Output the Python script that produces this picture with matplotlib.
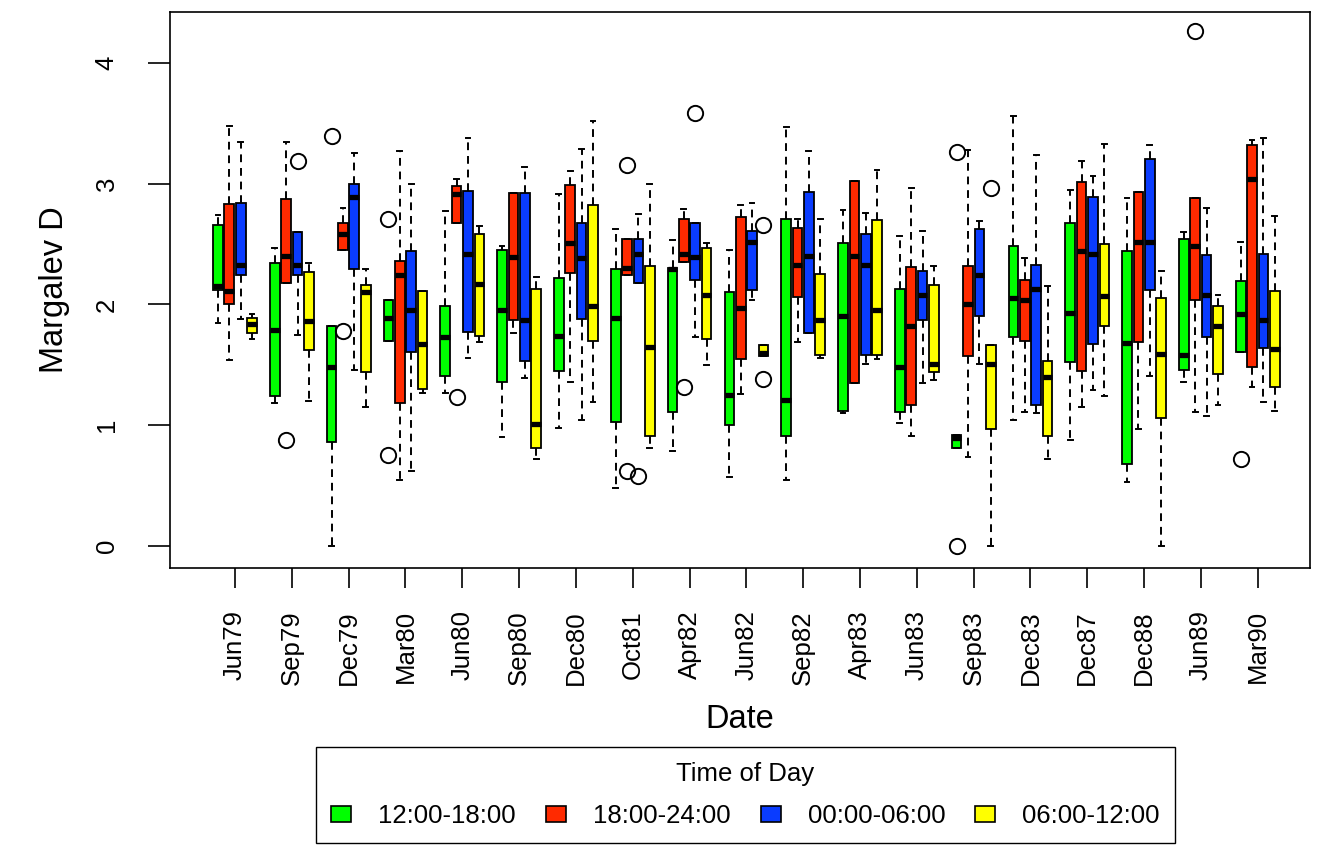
import numpy as np
import matplotlib
matplotlib.use("Agg")
import matplotlib.pyplot as plt
from matplotlib.patches import Patch

plt.rcParams['font.family'] = ['Liberation Sans', 'DejaVu Sans']

dates = ["Jun79", "Sep79", "Dec79", "Mar80", "Jun80", "Sep80", "Dec80", "Oct81",
         "Apr82", "Jun82", "Sep82", "Apr83", "Jun83", "Sep83", "Dec83", "Dec87",
         "Dec88", "Jun89", "Mar90"]

groups = ["12:00-18:00", "18:00-24:00", "00:00-06:00", "06:00-12:00"]
colours = ["#00ff00", "#ff2a00", "#0a3cff", "#ffff00"]

# 12:00-18:00
green_lo = [1.85, 1.18, 0.00, 1.70, 1.27, 0.90, 0.98, 0.48, 0.79, 0.57, 0.55, 1.10, 1.02, 0.81, 1.04, 0.88, 0.53, 1.36, 1.61]
green_q1 = [2.12, 1.24, 0.86, 1.70, 1.41, 1.36, 1.45, 1.03, 1.11, 1.00, 0.91, 1.12, 1.11, 0.81, 1.73, 1.52, 0.68, 1.46, 1.61]
green_med = [2.15, 1.79, 1.48, 1.89, 1.73, 1.95, 1.74, 1.89, 2.29, 1.25, 1.21, 1.90, 1.48, 0.89, 2.05, 1.93, 1.68, 1.58, 1.92]
green_q3 = [2.66, 2.34, 1.82, 2.04, 1.99, 2.45, 2.22, 2.29, 2.30, 2.10, 2.71, 2.51, 2.13, 0.92, 2.48, 2.67, 2.44, 2.54, 2.19]
green_hi = [2.74, 2.47, 1.82, 2.04, 2.77, 2.48, 2.91, 2.62, 2.53, 2.45, 3.47, 2.78, 2.57, 0.92, 3.56, 2.95, 2.88, 2.60, 2.52]
green_out = {"Dec79": [3.39], "Mar80": [2.71, 0.75], "Sep83": [3.26, 0.00], "Mar90": [0.72]}

# 18:00-24:00
red_lo = [1.54, 2.18, 2.45, 0.55, 2.67, 1.76, 1.36, 2.24, 2.35, 1.26, 1.69, 1.35, 0.91, 0.74, 1.11, 1.15, 0.97, 1.11, 1.32]
red_q1 = [2.00, 2.18, 2.45, 1.18, 2.67, 1.87, 2.26, 2.24, 2.35, 1.55, 2.06, 1.35, 1.17, 1.57, 1.70, 1.45, 1.69, 2.04, 1.48]
red_med = [2.11, 2.40, 2.58, 2.24, 2.91, 2.39, 2.51, 2.30, 2.42, 1.97, 2.33, 2.40, 1.82, 2.00, 2.04, 2.44, 2.52, 2.48, 3.04]
red_q3 = [2.83, 2.87, 2.67, 2.36, 2.98, 2.92, 2.99, 2.54, 2.71, 2.72, 2.63, 3.02, 2.31, 2.32, 2.20, 3.01, 2.93, 2.88, 3.32]
red_hi = [3.48, 3.34, 2.80, 3.27, 3.04, 2.92, 3.10, 2.54, 2.79, 2.82, 2.71, 3.02, 2.96, 3.28, 2.38, 3.19, 2.93, 2.88, 3.36]
red_out = {"Sep79": [0.88], "Dec79": [1.78], "Jun80": [1.23], "Oct81": [3.15, 0.62], "Apr82": [1.32], "Jun89": [4.26]}

# 00:00-06:00
blue_lo = [1.88, 1.75, 1.46, 0.62, 1.56, 1.39, 1.04, 2.18, 1.73, 2.04, 1.76, 1.51, 1.35, 1.51, 1.10, 1.29, 1.41, 1.08, 1.19]
blue_q1 = [2.24, 2.24, 2.29, 1.61, 1.77, 1.53, 1.88, 2.18, 2.20, 2.12, 1.76, 1.58, 1.87, 1.90, 1.17, 1.67, 2.12, 1.73, 1.64]
blue_med = [2.33, 2.33, 2.89, 1.95, 2.42, 1.87, 2.38, 2.42, 2.39, 2.52, 2.40, 2.33, 2.08, 2.24, 2.13, 2.42, 2.52, 2.08, 1.87]
blue_q3 = [2.84, 2.60, 3.00, 2.44, 2.94, 2.92, 2.67, 2.54, 2.67, 2.61, 2.93, 2.58, 2.28, 2.62, 2.33, 2.89, 3.20, 2.41, 2.42]
blue_hi = [3.34, 2.60, 3.25, 3.00, 3.38, 3.14, 3.29, 2.75, 2.67, 2.84, 3.27, 2.76, 2.61, 2.69, 3.24, 3.06, 3.32, 2.80, 3.38]
blue_out = {"Sep79": [3.19], "Oct81": [0.58], "Apr82": [3.58]}

# 06:00-12:00
yellow_lo = [1.71, 1.20, 1.15, 1.27, 1.69, 0.72, 1.19, 0.81, 1.50, 1.57, 1.56, 1.55, 1.37, 0.00, 0.72, 1.24, 0.00, 1.17, 1.12]
yellow_q1 = [1.76, 1.62, 1.44, 1.30, 1.74, 0.81, 1.70, 0.91, 1.71, 1.57, 1.58, 1.58, 1.44, 0.97, 0.91, 1.82, 1.06, 1.42, 1.32]
yellow_med = [1.84, 1.86, 2.10, 1.67, 2.17, 1.01, 1.99, 1.65, 2.08, 1.60, 1.87, 1.95, 1.51, 1.51, 1.40, 2.07, 1.59, 1.82, 1.63]
yellow_q3 = [1.89, 2.27, 2.16, 2.11, 2.58, 2.13, 2.82, 2.32, 2.47, 1.66, 2.25, 2.70, 2.16, 1.66, 1.53, 2.50, 2.05, 1.99, 2.11]
yellow_hi = [1.92, 2.34, 2.29, 2.11, 2.65, 2.23, 3.52, 3.00, 2.51, 1.66, 2.71, 3.11, 2.32, 1.66, 2.15, 3.33, 2.28, 2.08, 2.73]
yellow_out = {"Jun82": [2.66, 1.38], "Sep83": [2.96]}

series = [
    (green_lo, green_q1, green_med, green_q3, green_hi, green_out),
    (red_lo, red_q1, red_med, red_q3, red_hi, red_out),
    (blue_lo, blue_q1, blue_med, blue_q3, blue_hi, blue_out),
    (yellow_lo, yellow_q1, yellow_med, yellow_q3, yellow_hi, yellow_out),
]
offsets = [-0.3, -0.1, 0.1, 0.3]

# Create Figure
fig = plt.figure(figsize=(13.23, 8.46), dpi=100)
ax = fig.add_axes([0.1285, 0.3286, 0.8617, 0.6572])

for k, (lo, q1, med, q3, hi, out) in enumerate(series):
    stats = []
    for i, d in enumerate(dates):
        stats.append(dict(whislo=lo[i], q1=q1[i], med=med[i], q3=q3[i], whishi=hi[i],
                          fliers=out.get(d, [])))
    positions = np.arange(len(dates)) + offsets[k]
    parts = ax.bxp(stats, positions=positions, widths=0.17, capwidths=0.085,
                   patch_artist=True, manage_ticks=False,
                   boxprops=dict(edgecolor="black", linewidth=1.3),
                   whiskerprops=dict(color="black", linewidth=1.4, linestyle=(0, (4, 3))),
                   capprops=dict(color="black", linewidth=1.4),
                   medianprops=dict(color="black", linewidth=3.8, solid_capstyle="butt"),
                   flierprops=dict(marker="o", markersize=11, markerfacecolor="none",
                                   markeredgecolor="black", markeredgewidth=1.4))
    for box in parts["boxes"]:
        box.set_facecolor(colours[k])

ax.set_xlim(-1.144, 18.92)
ax.set_ylim(-0.182, 4.42)
ax.set_xticks(np.arange(len(dates)))
ax.set_xticklabels(dates, rotation=90, va="top")
ax.set_yticks([0, 1, 2, 3, 4])
ax.set_yticklabels(["0", "1", "2", "3", "4"], rotation=90, va="center")

ax.tick_params(axis="x", length=14.4, width=1.2, pad=16, labelsize=18.5)
ax.tick_params(axis="y", length=16, width=1.2, pad=21, labelsize=18.5)
for side in ax.spines:
    ax.spines[side].set_linewidth(1.2)

ax.set_xlabel("Date", fontsize=23.5, labelpad=14)
ax.set_ylabel("Margalev D", fontsize=23.5, labelpad=18)

handles = [Patch(facecolor=c, edgecolor="black", linewidth=1.2) for c in colours]
fig.legend(handles, groups, title="Time of Day", ncol=4, loc="center",
           bbox_to_anchor=(0.5635, 0.0603), fontsize=18.5, title_fontsize=18.5,
           handlelength=0.78, handleheight=0.58, handletextpad=1.05,
           columnspacing=1.17, fancybox=False, edgecolor="black",
           framealpha=1, borderpad=0.6, labelspacing=0.7)

fig.savefig("out.png", dpi=100)
